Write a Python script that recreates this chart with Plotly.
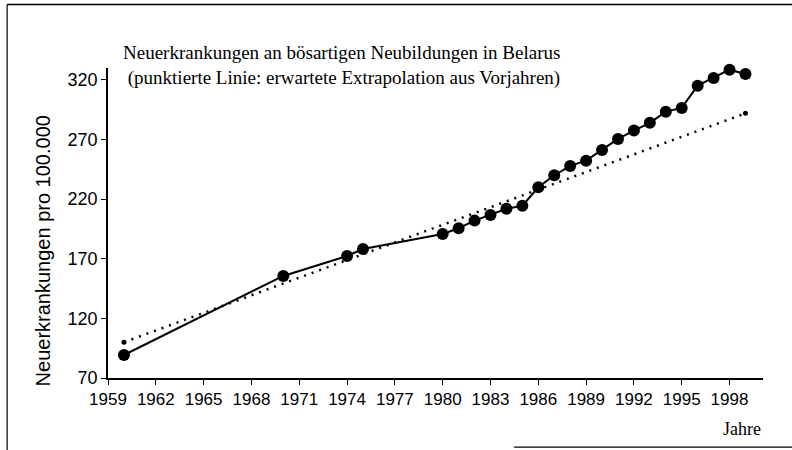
import plotly.graph_objects as go

jahre = [1960, 1970, 1974, 1975, 1980, 1981, 1982, 1983, 1984, 1985, 1986, 1987,
         1988, 1989, 1990, 1991, 1992, 1993, 1994, 1995, 1996, 1997, 1998, 1999]
werte = [89.3, 155.6, 172.3, 178.2, 190.8, 195.6, 202, 206.7, 212, 214.5, 230, 240,
         247.9, 252.3, 261.3, 270.5, 277.5, 284, 293.4, 296.5, 315.2, 321.7, 328.6, 325]

# erwartete Extrapolation aus Vorjahren (punktierte Linie)
trend_jahre = [1960, 1999]
trend_werte = [100, 292]

x_ticks = list(range(1959, 2000, 3))
y_ticks = [70, 120, 170, 220, 270, 320]

sans = "Liberation Sans, Arial, sans-serif"
serif = "Liberation Serif, Times New Roman, serif"

fig = go.Figure()
fig.add_trace(go.Scatter(
    x=trend_jahre, y=trend_werte, mode="lines+markers",
    line=dict(color="black", width=2.5, dash="2px,6px"),
    marker=dict(color="black", size=5),
    cliponaxis=False, showlegend=False,
))
fig.add_trace(go.Scatter(
    x=jahre, y=werte, mode="lines+markers",
    line=dict(color="black", width=2),
    marker=dict(color="black", size=12),
    cliponaxis=False, showlegend=False,
))

fig.update_xaxes(
    range=[1959, 2000.1], tickvals=x_ticks, ticks="outside", ticklen=5,
    tickcolor="black", showline=True, linecolor="black", linewidth=2,
    showgrid=False, zeroline=False,
    tickfont=dict(family=sans, size=17, color="black"),
)
fig.update_yaxes(
    range=[70, 330], tickvals=y_ticks, ticks="outside", ticklen=5,
    tickcolor="black", showline=True, linecolor="black", linewidth=1.5,
    showgrid=False, zeroline=False,
    tickfont=dict(family=sans, size=18, color="black"),
)

# Achsentitel (im Original etwas nach unten versetzt)
fig.add_annotation(
    text="Neuerkrankungen pro 100.000", textangle=-90,
    xref="paper", yref="paper", x=-0.1, y=0.41,
    xanchor="center", yanchor="middle", showarrow=False,
    font=dict(family=sans, size=20, color="black"),
)
fig.add_annotation(
    text="Neuerkrankungen an bösartigen Neubildungen in Belarus<br>"
         " (punktierte Linie: erwartete Extrapolation aus Vorjahren)",
    xref="paper", yref="paper", x=0.357, y=1.008, xanchor="center", yanchor="middle",
    showarrow=False, align="left",
    font=dict(family=serif, size=19, color="black"),
)
fig.add_annotation(
    text="Jahre", xref="paper", yref="paper", x=1.0, y=-0.165,
    xanchor="right", yanchor="middle", showarrow=False,
    font=dict(family=serif, size=18, color="black"),
)

# Rahmen um die Abbildung
fig.add_shape(type="line", xref="paper", yref="paper",
              x0=-0.154, x1=1.05, y0=1.205, y1=1.205,
              line=dict(color="black", width=1.5))
fig.add_shape(type="line", xref="paper", yref="paper",
              x0=-0.154, x1=-0.154, y0=1.205, y1=-0.24,
              line=dict(color="black", width=1.2))
fig.add_shape(type="line", xref="paper", yref="paper",
              x0=0.62, x1=1.05, y0=-0.223, y1=-0.223,
              line=dict(color="black", width=1.2))

fig.update_layout(
    width=792, height=450,
    margin=dict(l=108, r=29, t=68, b=72, autoexpand=False),
    plot_bgcolor="white", paper_bgcolor="white",
)

fig.write_html("out.html", config={"displayModeBar": False},
               post_script="document.body.style.margin='0';")
